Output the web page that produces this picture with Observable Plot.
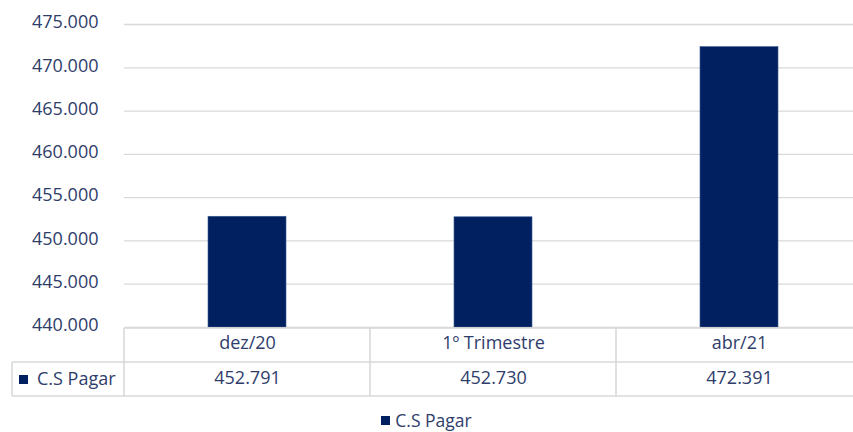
<!DOCTYPE html>
<html>
<head>
<meta charset="utf-8">
<script src="https://cdn.jsdelivr.net/npm/d3@7"></script>
<script src="https://cdn.jsdelivr.net/npm/@observablehq/plot@0.6"></script>
<style>
  html, body { margin: 0; padding: 0; background: #fff; }
  #wrap { position: relative; width: 853px; height: 432px; overflow: hidden; font-family: "Open Sans", sans-serif; }
  #chart svg { max-width: none !important; display: block; }
  #legend { position: absolute; left: 0; width: 853px; top: 408px; height: 24px; line-height: 24px; display: flex; justify-content: center; align-items: center; font-size: 17.5px; color: #2f3d6b; }
  #legend .sw { display: inline-block; width: 9px; height: 9px; background: #002060; margin-right: 5px; }
</style>
</head>
<body>
<div id="wrap">
  <div id="chart"></div>
  <div id="legend"><span class="sw"></span><span>C.S Pagar</span></div>
</div>
<script>
const categories = ["dez/20", "1º Trimestre", "abr/21"];
const values = [452791, 452730, 472391];
const seriesName = "C.S Pagar";
const yTicks = [440000, 445000, 450000, 455000, 460000, 465000, 470000, 475000];

const data = categories.map((c, i) => ({cat: c, value: values[i]}));
const loc = d3.formatLocale({thousands: ".", decimal: ",", grouping: [3], currency: ["", ""]});
const fmt = loc.format(",d");

const textColor = "#2f3d6b";
const gridColor = "#d9d9d9";
const fs = 18;

const plot = Plot.plot({
  width: 862,
  height: 405,
  marginLeft: 124,
  marginRight: 0,
  marginTop: 24,
  marginBottom: 78,
  style: {fontFamily: "Open Sans, sans-serif", fontSize: fs + "px", color: textColor, background: "#fff"},
  x: {domain: categories, paddingInner: 0.683, paddingOuter: 0.3415, label: null},
  y: {domain: [440000, 475000], label: null},
  marks: [
    Plot.ruleY(yTicks, {stroke: gridColor, strokeWidth: 1.3, strokeOpacity: 1}),
    Plot.barY(data, {x: "cat", y1: 440000, y2: "value", fill: "#002060", stroke: "#3c5a92", strokeWidth: 0.6}),
    Plot.axisY(yTicks, {tickSize: 0, tickPadding: 26, tickFormat: fmt, fill: textColor, fontSize: fs, dy: -2}),
    Plot.axisX({tickSize: 0, tickPadding: 9, fill: textColor, fontSize: fs, label: null}),
    Plot.text(data, {x: "cat", text: d => fmt(d.value), frameAnchor: "bottom", dy: 56, fill: textColor, fontSize: fs})
  ]
});
plot.style.maxWidth = "none";

// Draw data-table borders from the x scale's band layout
const xs = plot.scale("x");
const ys = plot.scale("y");
const svg = d3.select(plot);
const x0 = xs.range[0], x1 = xs.range[1];
const step = (x1 - x0) / categories.length;
const yTop = ys.apply(440000) + 1;
const rowH = 34;
const g = svg.append("g").attr("stroke", gridColor).attr("stroke-width", 1.6).attr("fill", "none");
g.append("line").attr("x1", x0).attr("x2", x1).attr("y1", yTop).attr("y2", yTop);
g.append("line").attr("x1", 12).attr("x2", x1).attr("y1", yTop + rowH).attr("y2", yTop + rowH);
g.append("line").attr("x1", 12).attr("x2", x1).attr("y1", yTop + 2 * rowH).attr("y2", yTop + 2 * rowH);
g.append("line").attr("x1", 12).attr("x2", 12).attr("y1", yTop + rowH).attr("y2", yTop + 2 * rowH);
for (let i = 0; i <= categories.length; i++) {
  const xv = x0 + i * step;
  g.append("line").attr("x1", xv).attr("x2", xv).attr("y1", yTop).attr("y2", yTop + 2 * rowH);
}
// series key in table
const key = svg.append("g");
key.append("rect").attr("x", 19).attr("y", yTop + rowH + 13).attr("width", 9).attr("height", 9).attr("fill", "#002060");
key.append("text").attr("x", 37).attr("y", yTop + rowH + rowH / 2).attr("dy", "0.35em")
  .attr("text-anchor", "start").attr("fill", textColor).attr("font-size", fs).text(seriesName);

document.getElementById("chart").appendChild(plot);
</script>
</body>
</html>
